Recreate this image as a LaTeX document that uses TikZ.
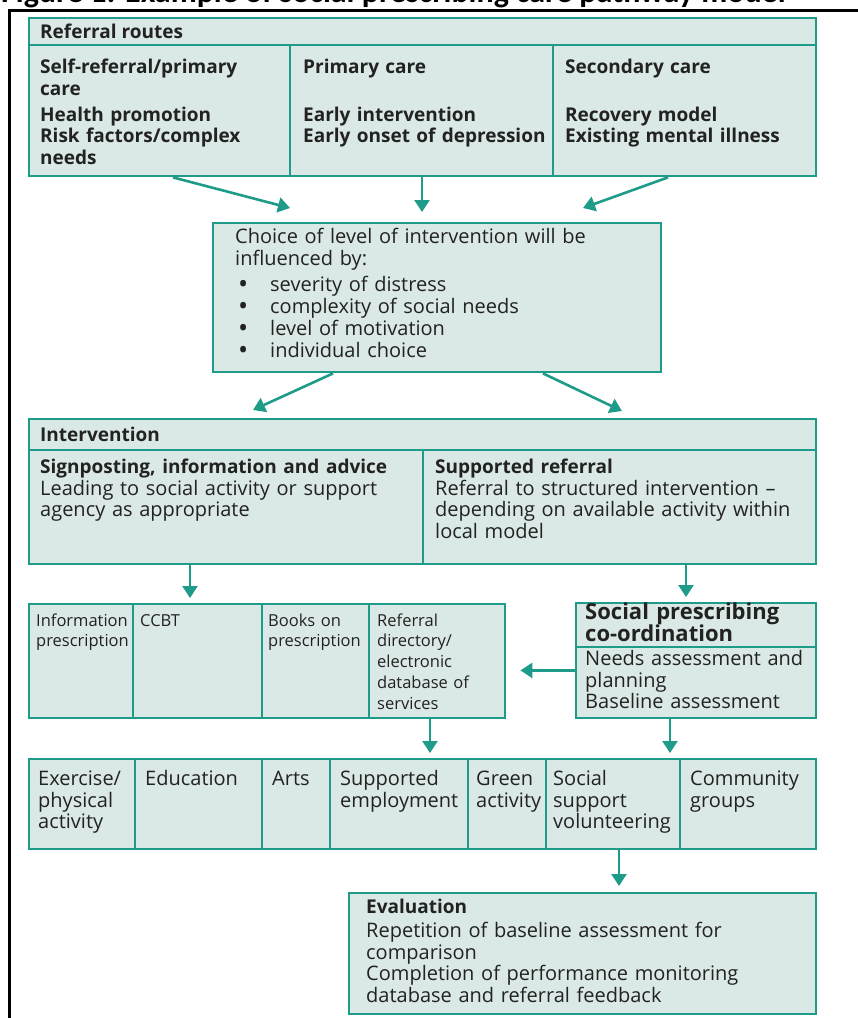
\documentclass[tikz,border=0pt]{standalone}
\usepackage{fontspec}
\usepackage{graphicx}
\setmainfont{Open Sans}
\newfontfamily\titlefont{Carlito}
\usetikzlibrary{arrows.meta}
\definecolor{tealc}{HTML}{1E9B89}
\definecolor{fillc}{HTML}{DAE8E6}
\definecolor{txtc}{HTML}{222222}
\newcommand{\bigbul}{\hspace*{3pt}\makebox[32pt][l]{\smash{\raisebox{-2.2pt}{\scalebox{1.35}{\textbullet}}}}}
\begin{document}
\begin{tikzpicture}[x=1pt,y=-1pt,
  panel/.style={draw=tealc, fill=fillc, line width=2.4pt, inner sep=0pt, anchor=north west},
  sep/.style={draw=tealc, line width=2.2pt},
  arr/.style={draw=tealc, line width=2.6pt, -{Triangle[length=12pt,width=15pt]}},
  txt/.style={anchor=base west, inner sep=0pt, align=left, text=txtc, font=\fontsize{20}{21.5}\selectfont},
  btxt/.style={anchor=base west, inner sep=0pt, align=left, text=txtc, font=\fontsize{19}{21.5}\selectfont\bfseries},
  stxt/.style={anchor=base west, inner sep=0pt, align=left, text=txtc, font=\fontsize{16.5}{20.8}\selectfont},
]
\useasboundingbox (0,0) rectangle (858,1018);

% title (cut off at top) and frame
\node[anchor=base west, inner sep=0pt, font=\titlefont\fontsize{32}{34}\selectfont\bfseries] (title) at (1,2.5) {Figure 1: Example of social prescribing care pathway model};
\draw[line width=3pt] (9,1018) -- (9,10) -- (858,10);

% panels
\node[panel, minimum width=787pt, minimum height=158pt] (b1) at (28,17) {};
\node[panel, minimum width=448pt, minimum height=149pt] (b2) at (212,222) {};
\node[panel, minimum width=787pt, minimum height=145pt] (b3) at (28,418) {};
\node[panel, minimum width=476pt, minimum height=114pt] (b4) at (28,603) {};
\node[panel, minimum width=240pt, minimum height=115pt] (b5) at (575,602) {};
\node[panel, minimum width=787pt, minimum height=90pt] (b6) at (28,758) {};
\node[panel, minimum width=467pt, minimum height=121pt] (b7) at (348,892) {};

% inner separators
\draw[sep] (28,45) -- (815,45);
\draw[sep] (290,45) -- (290,175);
\draw[sep] (553,45) -- (553,175);
\draw[sep] (28,450) -- (815,450);
\draw[sep] (423,450) -- (423,563);
\foreach \xx in {133,262,369} \draw[sep] (\xx,603) -- (\xx,717);
\draw[sep] (575,647) -- (815,647);
\foreach \xx in {135,262,330,468,546,680} \draw[sep] (\xx,758) -- (\xx,848);

% connectors
\draw[arr] ([xshift=145pt]b1.south west) -- ([xshift=78pt,yshift=14pt]b2.north west);
\draw[arr] ([xshift=394pt]b1.south west) -- ([xshift=210pt,yshift=10pt]b2.north west);
\draw[arr] ([xshift=640pt]b1.south west) -- ([xshift=371pt,yshift=14pt]b2.north west);
\draw[arr] ([xshift=121pt]b2.south west) -- ([xshift=225pt,yshift=8pt]b3.north west);
\draw[arr] ([xshift=331pt]b2.south west) -- ([xshift=594pt,yshift=7pt]b3.north west);
\draw[arr] ([xshift=162pt]b3.south west) -- ([xshift=162pt,yshift=5pt]b4.north west);
\draw[arr] ([xshift=658pt]b3.south west) -- ([xshift=111pt,yshift=5pt]b5.north west);
\draw[arr] ([yshift=49pt]b5.south west) -- ([xshift=14pt,yshift=49pt]b4.south east);
\draw[arr] ([xshift=402pt]b4.south west) -- ([xshift=402pt,yshift=5pt]b6.north west);
\draw[arr] ([xshift=95pt]b5.south west) -- ([xshift=642pt,yshift=5pt]b6.north west);
\draw[arr] ([xshift=591pt]b6.south west) -- ([xshift=271pt,yshift=6pt]b7.north west);

% referral routes
\node[btxt] (t11) at (40,38.5) {Referral routes};
\node[btxt, text width=245pt] (t12) at (40,73.5) {Self-referral/primary\\care};
\node[btxt, text width=245pt] (t13) at (40,121) {Health promotion\\Risk factors/complex\\needs};
\node[btxt, text width=250pt] (t14) at (303,73.5) {Primary care};
\node[btxt, text width=250pt] (t15) at (303,121) {Early intervention\\Early onset of depression};
\node[btxt, text width=250pt] (t16) at (565,73.5) {Secondary care};
\node[btxt, text width=250pt] (t17) at (565,121) {Recovery model\\Existing mental illness};

% choice
\node[txt, text width=420pt, font=\fontsize{20}{22}\selectfont] (t21) at (235,243.5) {Choice of level of intervention will be\\influenced by:\\[4pt]
\bigbul severity of distress\\
\bigbul complexity of social needs\\
\bigbul level of motivation\\
\bigbul individual choice};

% intervention
\node[btxt] (t31) at (40,441.5) {Intervention};
\node[txt, text width=375pt] (t32) at (40,473.5) {{\fontsize{19}{21.5}\selectfont\bfseries Signposting, information and advice}\\Leading to social activity or support\\agency as appropriate};
\node[txt, text width=375pt] (t33) at (435,473.5) {{\fontsize{19}{21.5}\selectfont\bfseries Supported referral}\\Referral to structured intervention --\\depending on available activity within\\local model};

% small boxes
\node[stxt, text width=95pt] (t41) at (36,626) {Information\\prescription};
\node[stxt, text width=110pt] (t42) at (140,626) {CCBT};
\node[stxt, text width=100pt] (t43) at (268,626) {Books on\\prescription};
\node[stxt, text width=120pt] (t44) at (377,626) {Referral\\directory/\\electronic\\database of\\services};

% social prescribing
\node[btxt, text width=235pt, font=\fontsize{22}{22}\selectfont\bfseries] (t51) at (585,619) {Social prescribing\\co-ordination};
\node[txt, text width=235pt] (t52) at (585,665.5) {Needs assessment and\\planning\\Baseline assessment};

% activities
\node[txt, text width=95pt] (t61) at (38,785.5) {Exercise/\\physical\\activity};
\node[txt, text width=110pt] (t62) at (145,785.5) {Education};
\node[txt, text width=60pt] (t63) at (272,785.5) {Arts};
\node[txt, text width=130pt] (t64) at (340,785.5) {Supported\\employment};
\node[txt, text width=75pt] (t65) at (476,785.5) {Green\\activity};
\node[txt, text width=130pt] (t66) at (553,785.5) {Social\\support\\volunteering};
\node[txt, text width=125pt] (t67) at (690,785.5) {Community\\groups};

% evaluation
\node[btxt] (t71) at (366,913.5) {Evaluation};
\node[txt, text width=440pt] (t72) at (366,937.5) {Repetition of baseline assessment for\\comparison\\Completion of performance monitoring\\database and referral feedback};
\end{tikzpicture}
\end{document}
